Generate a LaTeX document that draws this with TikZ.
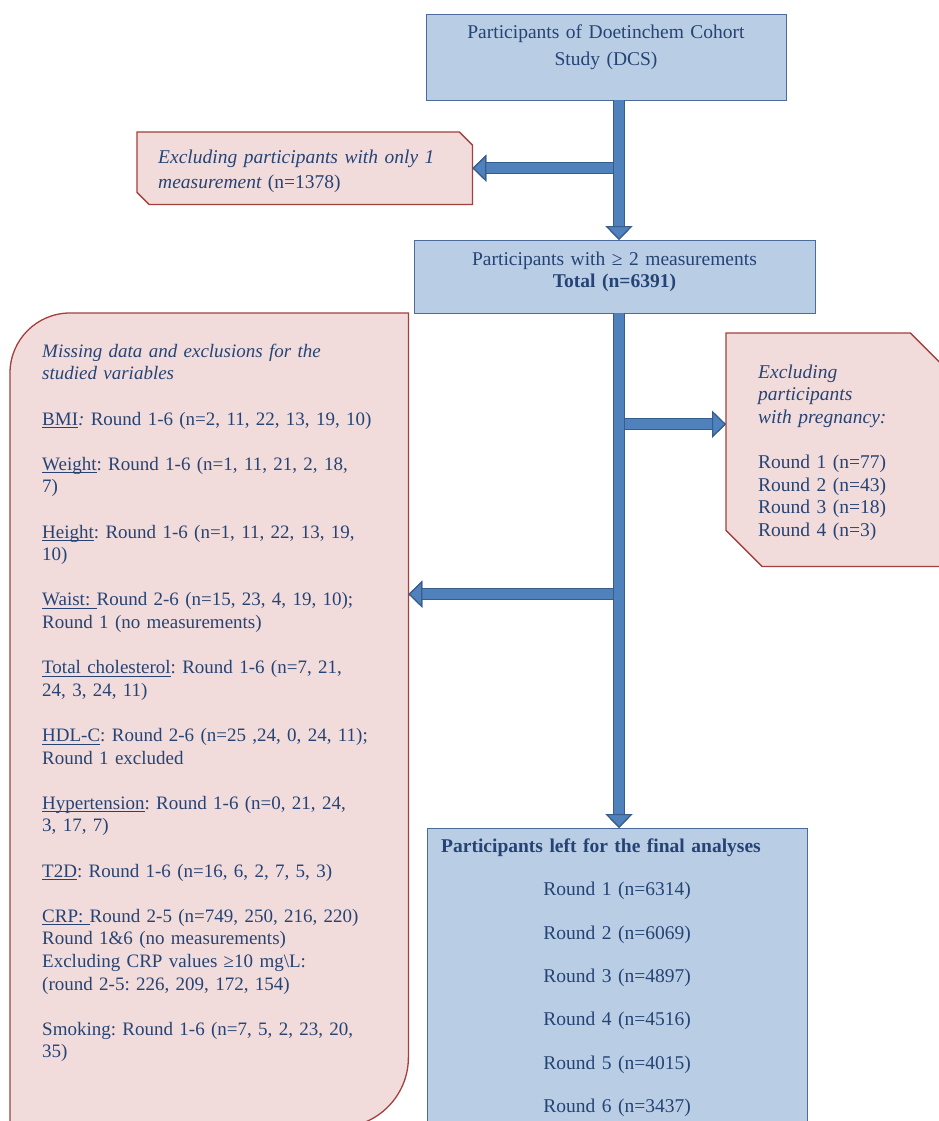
\documentclass[tikz,border=0pt]{standalone}
\usepackage{fontspec}
\setmainfont{Liberation Serif}
\usepackage{xcolor}
\definecolor{Box Blue}{HTML}{B9CDE5}
\definecolor{Edge Blue}{HTML}{4A6B9C}
\definecolor{Blush}{HTML}{F2DCDB}
\definecolor{Brick}{HTML}{A2403D}
\definecolor{Steel}{HTML}{4F81BD}
\definecolor{Navy}{HTML}{385D8A}
\definecolor{Ink}{HTML}{254475}
\colorlet{cFill}{Box Blue}
\colorlet{cEdge}{Edge Blue}
\usepackage{tikz}
\usetikzlibrary{calc, positioning, arrows.meta, backgrounds}
\newcommand\ulword[1]{\leavevmode\setbox0\hbox{#1}\rlap{\rule[-3pt]{\wd0}{0.9pt}}\box0}
\tikzset{
	line width = 1.3pt,
	font = \fontsize{19.5pt}{22.6pt}\selectfont\frenchspacing,
	every node/.style={
		text=Ink,
		inner ysep=0pt
	},
	bluebox/.style={
		draw=cEdge,
		fill=cFill,
		rectangle,
		align=center,
		anchor=north
	},
	note/.style={
		anchor=north west,
		align=left
	},
	pinkbox/.style={
		draw=Brick,
		fill=Blush,
		line width=1.3pt
	},
	flow/.style={
		draw=Steel,
		line width=9.5pt,
		preaction={draw=Navy, line width=12.5pt},
		-{Triangle[length=14pt, width=27pt, line width=1.2pt, color=Navy, fill=Steel]}
	}
}

\begin{document}
\begin{tikzpicture}[x=1pt, y=-1pt]
        \useasboundingbox (0,0) rectangle (938,1121);

        \node (cohort) [bluebox, text width=330pt, minimum width=360pt, text height=24pt, text depth=62pt] at (606,14)
            {Participants of Doetinchem Cohort\\[4.4pt] Study (DCS)};
        \node (total) [bluebox, text width=370pt, minimum width=401pt, text height=25pt, text depth=48pt] at (614.5,240)
            {Participants with ≥ 2 measurements\\ \textbf{Total (n=6391)}};
        \node (final) [bluebox, anchor=north west, text width=352pt, inner xsep=14pt, text height=24pt, text depth=290pt] at (427,828)
            {\makebox[\linewidth][l]{\textbf{Participants left for the final analyses}}\\[20.8pt]
             Round 1 (n=6314)\\[20.8pt] Round 2 (n=6069)\\[20.8pt] Round 3 (n=4897)\\[20.8pt]
             Round 4 (n=4516)\\[20.8pt] Round 5 (n=4015)\\[20.8pt] Round 6 (n=3437)};

        \node (excl) [note, text width=293pt, inner xsep=21pt, text height=31pt, text depth=41pt] at (137,132)
            {\itshape Excluding participants with only 1\\[2.4pt] measurement \upshape(n=1378)};
        \node (preg) [note, text width=150pt, inner xsep=32pt, text height=45pt, text depth=188pt] at (726,333)
            {\itshape Excluding\\ participants\\ with pregnancy:\\[22.6pt]
             \upshape Round 1 (n=77)\\ Round 2 (n=43)\\ Round 3 (n=18)\\ Round 4 (n=3)};
        \node (miss) [note, font=\fontsize{19pt}{22.6pt}\selectfont\frenchspacing, text width=334pt, inner xsep=32pt, text height=44pt, text depth=770pt] at (10,313)
            {\itshape Missing data and exclusions for the\\ studied variables\\[22.6pt]
             \upshape \ulword{BMI}\textit{:} Round 1-6 (n=2, 11, 22, 13, 19, 10)\\[22.6pt]
             \ulword{Weight}: Round 1-6 (n=1, 11, 21, 2, 18,\\ 7)\\[22.6pt]
             \ulword{Height}: Round 1-6 (n=1, 11, 22, 13, 19,\\ 10)\\[22.6pt]
             \ulword{Waist:\ }Round 2-6 (n=15, 23, 4, 19, 10);\\ Round 1 (no measurements)\\[22.6pt]
             \ulword{Total cholesterol}: Round 1-6 (n=7, 21,\\ 24, 3, 24, 11)\\[22.6pt]
             \ulword{HDL-C}: Round 2-6 (n=25 ,24, 0, 24, 11);\\ Round 1 excluded\\[22.6pt]
             \ulword{Hypertension}: Round 1-6 (n=0, 21, 24,\\ 3, 17, 7)\\[22.6pt]
             \ulword{T2D}: Round 1-6 (n=16, 6, 2, 7, 5, 3)\\[22.6pt]
             \ulword{CRP:\ }Round 2-5 (n=749, 250, 216, 220)\\ Round 1\&6 (no measurements)\\
             Excluding CRP values ≥10 mg\textbackslash L:\\ (round 2-5: 226, 209, 172, 154)\\[22.6pt]
             Smoking: Round 1-6 (n=7, 5, 2, 23, 20,\\ 35)};

        % snipped and rounded outlines behind the texts
        \begin{scope}[on background layer]
            \fill[white] (0,0) rectangle (938,1121);
            \draw[pinkbox] (excl.north west) -- ([xshift=-13pt]excl.north east) -- ([yshift=-13pt]excl.north east)
                -- (excl.south east) -- ([xshift=12pt]excl.south west) -- ([yshift=12pt]excl.south west) -- cycle;
            \draw[pinkbox] (preg.north west) -- ([xshift=-30pt]preg.north east) -- ([yshift=-30pt]preg.north east)
                -- (preg.south east) -- ([xshift=36pt]preg.south west) -- ([yshift=36pt]preg.south west) -- cycle;
            \draw[pinkbox] (miss.south west) -- ([yshift=-60pt]miss.north west) arc[start angle=180, end angle=90, radius=60pt]
                -- (miss.north east) -- ([yshift=70pt]miss.south east) arc[start angle=0, end angle=-90, radius=70pt] -- cycle;
        \end{scope}

        \coordinate (spine) at (619,0);
        \coordinate (pregin) at ([yshift=25.5pt]preg.west);
        \coordinate (missin) at ([yshift=126pt]miss.east);

        \draw[flow] (spine |- excl.east) -- (excl.east);
        \draw[flow] (spine |- pregin) -- (pregin);
        \draw[flow] (spine |- missin) -- (missin);
        \draw[flow] (cohort.south -| spine) -- (total.north -| spine);
        \draw[flow] (total.south -| spine) -- (final.north -| spine);
    \end{tikzpicture}
\end{document}
